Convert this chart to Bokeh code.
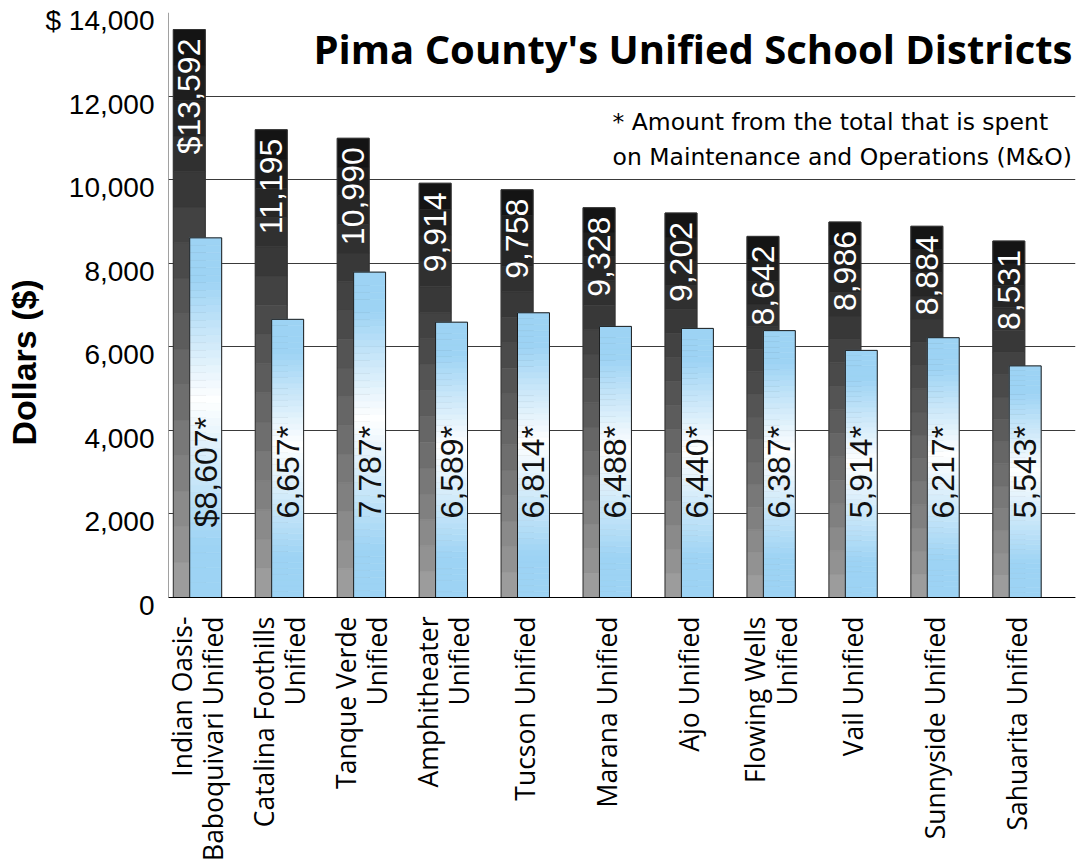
import numpy as np
from bokeh.plotting import figure
from bokeh.models import FixedTicker, Range1d, Label, Title, Span, LinearAxis
from bokeh.core.properties import value
from bokeh.embed import file_html
from bokeh.resources import INLINE

# ---------------- data ----------------
districts = [
    "Indian Oasis-\nBaboquivari Unified",
    "Catalina Foothills\nUnified",
    "Tanque Verde\nUnified",
    "Amphitheater\nUnified",
    "Tucson Unified",
    "Marana Unified",
    "Ajo Unified",
    "Flowing Wells\nUnified",
    "Vail Unified",
    "Sunnyside Unified",
    "Sahuarita Unified",
]
total = [13592, 11195, 10990, 9914, 9758, 9328, 9202, 8642, 8986, 8884, 8531]
mo = [8607, 6657, 7787, 6589, 6814, 6488, 6440, 6387, 5914, 6217, 5543]
total_labels = ["$13,592", "11,195", "10,990", "9,914", "9,758", "9,328",
                "9,202", "8,642", "8,986", "8,884", "8,531"]
mo_labels = ["$8,607*", "6,657*", "7,787*", "6,589*", "6,814*", "6,488*",
             "6,440*", "6,387*", "5,914*", "6,217*", "5,543*"]
y_ticks = [0, 2000, 4000, 6000, 8000, 10000, 12000, 14000]
y_tick_labels = ["0", "2,000", "4,000", "6,000", "8,000", "10,000", "12,000", "$ 14,000"]
title_text = "Pima County's Unified School Districts"
note_lines = ["* Amount from the total that is spent",
              "on Maintenance and Operations (M&O)"]
y_title = "Dollars ($)"

# ---------------- layout ----------------
W, H = 1078, 864
B_LEFT, B_RIGHT, B_TOP = 168, 3, 12
ZERO_PX = 597            # canvas row of value 0
FW = W - B_LEFT - B_RIGHT
PX_PER_CAT = 81.95
X0 = -29.0 / PX_PER_CAT
X1 = X0 + FW / PX_PER_CAT
YMAX = 14000
YPX = YMAX / (ZERO_PX - B_TOP)          # data units per pixel
YMIN = -(H - ZERO_PX) * YPX             # frame extends down to hold category labels
XPX = 1.0 / PX_PER_CAT
LAB_SHIFT = 8 * YPX                     # tick labels sit just below their grid line

BAR_W = 0.39
OFF = 0.1

p = figure(width=W, height=H, x_range=Range1d(X0, X1), y_range=Range1d(YMIN, YMAX),
           output_backend="svg", toolbar_location=None,
           min_border_left=B_LEFT, min_border_right=B_RIGHT,
           min_border_top=B_TOP, min_border_bottom=0)
p.outline_line_color = None
p.background_fill_color = "white"
p.border_fill_color = "white"

# grid on main range
p.yaxis.ticker = FixedTicker(ticks=y_ticks)
p.ygrid.ticker = FixedTicker(ticks=y_ticks)
p.yaxis.visible = False
p.xaxis.visible = False
p.xgrid.visible = False
p.ygrid.grid_line_color = "#3a3a3a"
p.ygrid.grid_line_width = 1

# labelled y axis on a slightly shifted range
p.extra_y_ranges = {"lab": Range1d(YMIN + LAB_SHIFT, YMAX + LAB_SHIFT)}
yax = LinearAxis(y_range_name="lab", ticker=FixedTicker(ticks=y_ticks))
yax.major_label_overrides = {t: s for t, s in zip(y_ticks, y_tick_labels)}
yax.major_label_text_font = "Liberation Sans"
yax.major_label_text_font_size = "28px"
yax.major_label_text_color = "black"
yax.major_label_standoff = 14
yax.major_tick_line_color = None
yax.major_tick_out = 0
yax.major_tick_in = 0
yax.minor_tick_line_color = None
yax.axis_line_color = None
p.add_layout(yax, "left")

p.add_layout(Title(text=y_title, align="left", offset=419, standoff=0,
                   text_font="Liberation Sans", text_font_style="bold",
                   text_font_size="34px", text_color="black"),
             "left")

# axis lines
p.segment(x0=[X0], y0=[0], x1=[X0], y1=[YMAX], line_color="#444444", line_width=1)
p.add_layout(Span(location=0, dimension="width", line_color="black", line_width=1.2))

xs = np.arange(len(districts), dtype=float)
xd = xs - OFF
xb = xs + OFF

# ---------------- dark (total) bars with banded gradient ----------------
ND = 16
dl, dr, db, dt, dc = [], [], [], [], []
for i, t in enumerate(total):
    for k in range(ND):
        lvl = int(round(160 - 144 * (k + 0.5) / ND))
        col = "#%02x%02x%02x" % (lvl, lvl, lvl)
        dl.append(xd[i] - BAR_W / 2); dr.append(xd[i] + BAR_W / 2)
        db.append(t * k / ND); dt.append(t * (k + 1) / ND); dc.append(col)
p.quad(left=dl, right=dr, bottom=db, top=dt, fill_color=dc, line_color=dc, line_width=0.6)
p.vbar(x=xd, top=total, width=BAR_W, fill_color=None, line_color="#333333", line_width=1)

# ---------------- blue (M&O) bars with gradient ----------------
NB = 48
blue = np.array([0x9d, 0xd3, 0xf4], dtype=float)
white = np.array([255, 255, 255], dtype=float)
stops_t = [0.0, 0.15, 0.55, 0.88, 1.0]
stops_c = [blue, blue, white, blue, blue]
bl, br, bb, bt, bc = [], [], [], [], []
for i, m in enumerate(mo):
    for k in range(NB):
        tt = (k + 0.5) / NB
        c = [np.interp(tt, stops_t, [s[j] for s in stops_c]) for j in range(3)]
        col = "#%02x%02x%02x" % tuple(int(round(v)) for v in c)
        bl.append(xb[i] - BAR_W / 2); br.append(xb[i] + BAR_W / 2)
        bb.append(m * k / NB); bt.append(m * (k + 1) / NB); bc.append(col)
p.quad(left=bl, right=br, bottom=bb, top=bt, fill_color=bc, line_color=bc, line_width=0.6)
p.vbar(x=xb, top=mo, width=BAR_W, fill_color=None, line_color="#1a1a1a", line_width=1)

# ---------------- value labels ----------------
p.text(x=xd, y=[t - 9 * YPX for t in total], text=total_labels, angle=np.pi / 2,
       text_align="right", text_baseline="middle", text_color="white",
       text_font=value("Liberation Sans"), text_font_size="32px")
p.text(x=xb, y=[3000] * len(mo), text=mo_labels, angle=np.pi / 2,
       text_align="center", text_baseline="middle", text_color="#111111",
       text_font=value("Liberation Sans"), text_font_size="32px")

# ---------------- category labels (below the zero line) ----------------
p.text(x=xs, y=[-19 * YPX] * len(districts), text=districts, angle=np.pi / 2,
       text_align="right", text_baseline="middle", text_color="black",
       text_font=value("Open Sans"), text_font_size="26.5px", text_line_height=0.88)

# ---------------- title & note ----------------
p.add_layout(Label(x=X1 - 3 * XPX, y=13138, text=title_text, text_align="right",
                   text_baseline="middle", text_font="Open Sans",
                   text_font_style="bold", text_font_size="40px", text_color="black"))
note_x = X0 + 444 * XPX
for line, yv in zip(note_lines, [11368, 10530]):
    p.add_layout(Label(x=note_x, y=yv, text=line, text_align="left",
                       text_baseline="middle", text_font="DejaVu Sans",
                       text_font_size="23.5px", text_color="black"))

open("out.html", "w").write(file_html(p, INLINE))
